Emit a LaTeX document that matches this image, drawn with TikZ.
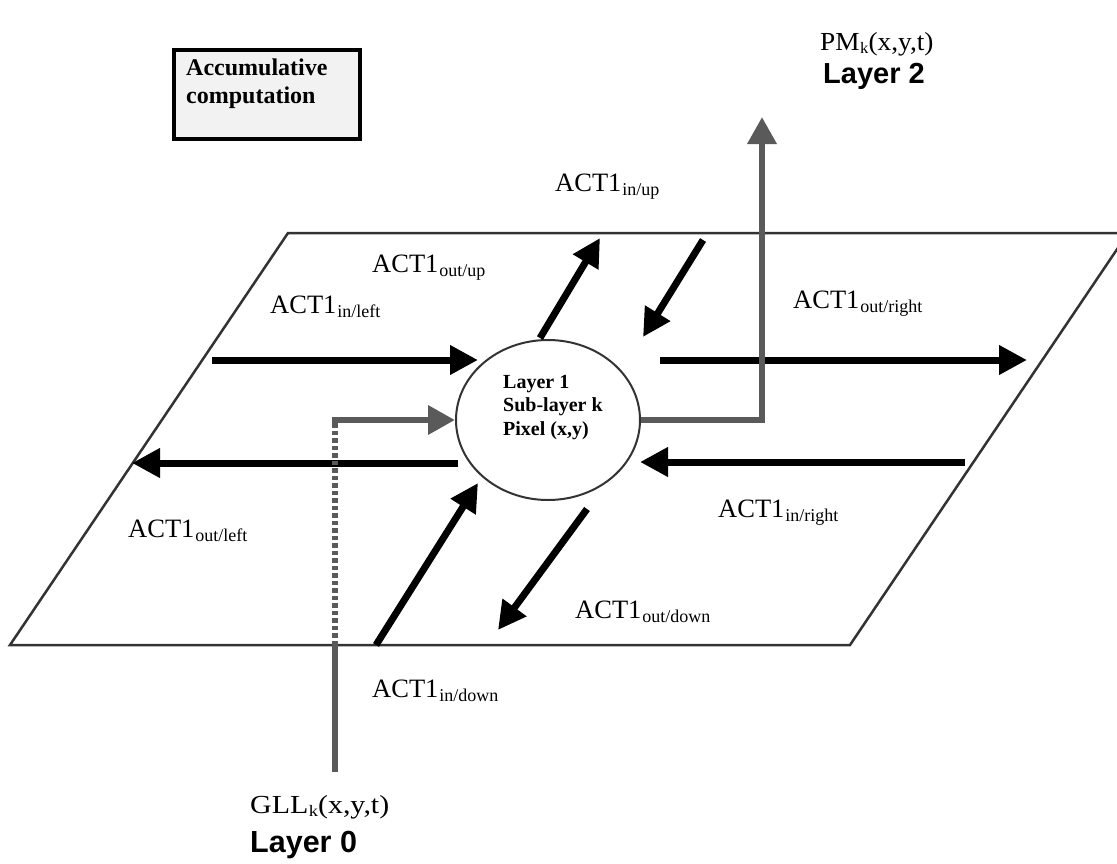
\documentclass[tikz,border=0pt]{standalone}
\usepackage{fontspec}
\setmainfont{Liberation Serif}
\newfontfamily\sansfont{Liberation Sans}
\usetikzlibrary{arrows.meta,shapes.geometric}
\definecolor{arrgray}{HTML}{5A5A5A}
\definecolor{edgegray}{HTML}{333333}
\definecolor{boxfill}{HTML}{F2F2F2}
\newcommand\actlab[1]{{\fontsize{26.5}{30}\selectfont ACT1}\kern1pt{\fontsize{18}{20}\selectfont\raisebox{-4pt}{#1}}}
\begin{document}
\begin{tikzpicture}[x=1pt,y=-1pt,
  blk/.style={line width=7pt, black, -{Triangle[length=28pt,width=28pt]}},
  gry/.style={line width=6.5pt, arrgray, -{Triangle[length=27pt,width=28pt]}},
  grydot/.style={line width=6.5pt, arrgray, dash pattern=on 4.5pt off 3pt},
  grysolid/.style={line width=6.5pt, arrgray},
  lab/.style={anchor=base west, inner sep=0pt},
  plane/.style={line width=2.5pt, edgegray},
]
\clip (0,0) rectangle (1117,863);
\fill[white] (0,0) rectangle (1117,863);

% plane
\draw[plane] (10,645) -- (850,645) -- (1128,233) -- (288,233) -- cycle;

% accumulative box
\node[draw=black, line width=3.5pt, fill=boxfill, anchor=north west, minimum width=186pt, minimum height=89pt, inner sep=0pt] (accbox) at (172,48) {};
\node[lab] (acctext) at (186,75) {\fontsize{24}{28}\selectfont\bfseries\begin{tabular}[t]{@{}l@{}}Accumulative\\computation\end{tabular}};

% cell
\node[ellipse, draw=edgegray, line width=2pt, minimum width=184pt, minimum height=160pt, inner sep=0pt] (cell) at (548,420) {};
\node[lab] (celltext) at (503,388) {\fontsize{20}{23.5}\selectfont\bfseries\begin{tabular}[t]{@{}l@{}}Layer 1\\Sub-layer k\\Pixel (x,y)\end{tabular}};

% coordinates
\coordinate (inLs) at (212,360);   \coordinate (inLe) at (478,360);
\coordinate (outRs) at (660,360);  \coordinate (outRe) at (1027,360);
\coordinate (outLs) at (458,463);  \coordinate (outLe) at (132,463);
\coordinate (inRs) at (965,462);   \coordinate (inRe) at (640,462);
\coordinate (outUs) at (540,338);  \coordinate (outUe) at (600,238);
\coordinate (inUs) at (703,240);   \coordinate (inUe) at (643,337);
\coordinate (inDs) at (376,645);   \coordinate (inDe) at (478,483);
\coordinate (outDs) at (587,509);  \coordinate (outDe) at (498,630);
\coordinate (gllbot) at (335,772); \coordinate (gllplane) at (335,645);
\coordinate (gllcorner) at (335,420); \coordinate (gllend) at (455,420);
\coordinate (pmtip) at (762,117);

% black arrows
\draw[blk] (inLs) -- (inLe);
\draw[blk] (outRs) -- (outRe);
\draw[blk] (outLs) -- (outLe);
\draw[blk] (inRs) -- (inRe);
\draw[blk] (outUs) -- (outUe);
\draw[blk] (inUs) -- (inUe);
\draw[blk] (inDs) -- (inDe);
\draw[blk] (outDs) -- (outDe);

% gray arrows
\draw[grysolid] (gllbot) -- (gllplane);
\draw[grydot] (gllplane) -- (gllcorner);
\draw[gry] ([xshift=-3.25pt]gllcorner) -- (gllend);
\draw[gry] (cell.east) -| (pmtip);

% labels
\node[lab] (linup) at (555,191) {\actlab{in/up}};
\node[lab] (loutup) at (372,272) {\actlab{out/up}};
\node[lab] (linleft) at (270,313) {\actlab{in/left}};
\node[lab] (loutright) at (793,308) {\actlab{out/right}};
\node[lab] (loutleft) at (128,537) {\actlab{out/left}};
\node[lab] (linright) at (718,517) {\actlab{in/right}};
\node[lab] (loutdown) at (575,618) {\actlab{out/down}};
\node[lab] (lindown) at (372,697) {\actlab{in/down}};

\node[lab] (gll) at (250,813) {\scalebox{1.15}[1]{\fontsize{26}{28}\selectfont GLL\kern0.5pt{\fontsize{16}{18}\selectfont\raisebox{-3pt}{k}}(x,y,t)}};
\node[lab] (layer0) at (250,852) {\sansfont\bfseries\fontsize{30.5}{32}\selectfont Layer 0};
\node[lab] (pm) at (820,50) {\scalebox{1.05}[1]{\fontsize{26}{28}\selectfont PM\kern0.5pt{\fontsize{16}{18}\selectfont\raisebox{-3pt}{k}}(x,y,t)}};
\node[lab] (layer2) at (823,83) {\sansfont\bfseries\fontsize{29}{32}\selectfont Layer 2};
\end{tikzpicture}
\end{document}
